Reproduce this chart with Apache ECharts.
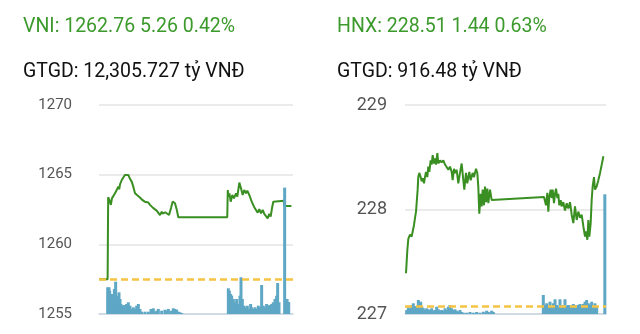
<!DOCTYPE html>
<html><head><meta charset="utf-8">
<script src="https://cdn.jsdelivr.net/npm/echarts@6/dist/echarts.min.js"></script>
<style>html,body{margin:0;padding:0;background:#fff}#c{width:640px;height:334px}</style>
</head><body><div id="c"></div>
<script>
// ---- data (time = minutes since 09:00) ----
const vniHeader = 'VNI: 1262.76 5.26 0.42%';
const vniValue = 'GTGD: 12,305.727 tỷ VNĐ';
const hnxHeader = 'HNX: 228.51 1.44 0.63%';
const hnxValue = 'GTGD: 916.48 tỷ VNĐ';
const vniRef = 1257.5;
const hnxRef = 227.07;
const vniTicks = [1255, 1260, 1265, 1270];
const hnxTicks = [227, 228, 229];

const vniTime = [0,16,17,20,22,24,26.5,29.7,32.8,35.8,37.5,39,42,45,48,51.4,54.4,57.5,60.7,63.6,66.8,70,74.8,77,79.2,82,85.4,88,91.5,94.6,97,100.8,103,107.1,110,113.2,116.4,118,120.6,123,125.6,129.9,133.6,136.8,139,141,144.2,147.1,150,238,239,240,242,244.4,247.4,250.5,254.2,256.7,260.4,263.5,266.6,269.6,272.8,275.2,278.9,283.4,287.6,291.3,294.5,297.4,300.6,303.8,306.7,309.9,313,316,318.6,321,323.4,326.6,343,343.5,357];
const vniPrice = [1257.5,1257.5,1263.38,1263.1,1262.83,1263.3,1263.2,1263.66,1263.9,1264.14,1263.95,1264.3,1264.6,1264.65,1264.98,1264.85,1264.98,1264.7,1264.5,1264.14,1263.66,1263.55,1263.4,1263.5,1263.23,1263.3,1263.05,1263.15,1263.0,1262.83,1262.9,1262.6,1262.7,1262.42,1262.3,1262.1,1262.35,1262.2,1262.2,1262.3,1262.25,1262.1,1262.6,1263.07,1263.0,1262.95,1262.5,1261.94,1261.94,1261.94,1263.9,1263.42,1263.66,1263.06,1263.54,1263.3,1263.66,1263.42,1264.43,1264.02,1263.54,1263.9,1263.66,1263.85,1263.54,1263.06,1262.7,1262.47,1262.27,1262.52,1262.23,1262.47,1262.18,1262.03,1261.87,1262.18,1261.99,1262.59,1263.06,1263.13,1263.13,1262.76,1262.76];

const vniVolTime = [16.1,18.6,19.8,22.3,24.7,26.6,28.5,30.9,32.8,34.6,37.1,39,40.8,43.3,47,51.3,54.4,57.5,60.6,63.7,66.8,69.9,73,76.1,79.2,85.4,91.5,96.5,100.8,103.9,107,110.1,116.3,122.5,125.6,128.6,133.6,137.9,141,144.1,147.2,150.3,153.4,
  240,241.9,244.3,246.2,249.3,252.4,255.5,258.5,261.6,263.5,266,269,272.1,275.2,278.3,281.4,283.3,286.3,289.5,292.6,295.6,298.8,301.8,304.9,308,311.1,314.2,317.3,320.4,323.4,326.6,329.6,331.5,334,
  344.5,349,352];
const vniVol = [26.7,26.7,23.3,18.3,20,15,25,32.3,18.3,13.3,21.7,15,10,8.3,9,10,11.7,8.3,5,6.7,5,8.3,10,5,2.3,2.3,2.3,5,5.7,2.3,3.3,5,3.3,4.3,3.3,5,3.3,5.7,5,4.3,2.3,1.7,1,
  25.7,23.3,20,18.3,15,11.7,15,10,18.3,36.7,15,8.3,6.7,8.3,5,10,6.7,5,6.7,5,8.3,6.7,29,8.3,6.7,10,8.3,9,10,11.7,15,18.3,31,11.7,
  126.4,15,12];

const hnxTime = [1.7,4,5.7,8.6,11.4,13.2,15.4,17.2,18.9,20,21.7,22.8,24.5,26.9,28.6,30.3,32.6,34.3,36,38.3,40,41.8,44,45.8,47.5,49.8,51.5,53.2,55.5,57.2,60.1,62.9,65.8,68.7,71.5,74.4,77.2,80.1,81.8,84.1,85.8,88.7,91.5,94.4,97.3,100.1,101.8,104.7,106.9,110.4,112.7,116.1,118.4,121.9,124.1,125.8,127.5,129.9,131.6,133.3,135.6,137.3,139,141.3,143,145.9,148.8,151.6,238.6,240.3,242,244.3,246,247.7,250,251.7,253.5,255.7,257.5,259.2,261.5,263.1,264.9,267.2,268.9,271.7,274.6,277.5,280.3,283.2,286.1,288.9,291.8,294.7,297.5,300.4,303.2,306.1,309,310.7,313,314.7,316.4,318.7,320.4,322.1,324.4,326.1,329,331.8,334.8,337.7,340.5];
const hnxPrice = [227.39,227.61,227.72,227.76,227.74,227.79,227.85,227.92,227.98,228.06,228.19,228.31,228.35,228.31,228.27,228.3,228.25,228.31,228.36,228.31,228.41,228.36,228.47,228.43,228.52,228.44,228.49,228.43,228.54,228.44,228.47,228.45,228.47,228.43,228.44,228.38,228.41,228.36,228.28,228.39,228.35,228.38,228.25,228.35,228.44,228.28,228.19,228.35,228.25,228.36,228.28,228.35,228.31,228.39,228.35,228.22,227.96,228.15,228.03,228.19,228.04,228.22,228.07,228.2,228.06,228.19,228.09,228.09,228.12,228.13,228.04,228.16,227.98,228.12,228.19,228.11,228.19,228.06,228.15,228.2,228.11,228.15,228.04,228.09,228.03,228.07,227.99,228.06,228.01,228.07,227.95,227.87,228.03,227.9,227.98,227.92,227.95,227.84,227.74,227.79,227.71,227.9,227.74,227.87,228.09,228.22,228.31,228.19,228.22,228.28,228.35,228.43,228.51];

const hnxVolTime = [2.9,5.7,8.6,11.4,14.3,17.2,20,22.9,24.6,26.9,29.2,31.5,34.3,37.2,40,42.9,45.8,48.6,51.5,54.4,57.2,60.1,62.9,65.8,68.7,71.5,74.4,77.2,80.1,83,85.8,88.7,91.5,94.4,97.3,100.1,105.8,111.6,117.3,123,128.7,134.4,137.3,140.2,143,145.9,148.8,151.6,237.4,240.3,243.2,246,248.9,251.7,254.6,257.5,260.3,263.2,266,268.9,271.8,274.6,277.5,280.3,283.2,286.1,288.9,291.8,294.7,297.5,300.4,303.2,306.1,309,311.8,314.7,317.6,320.4,323.3,326.1,329,343];
const hnxVol = [4,6.7,5.7,9,10.7,7.3,8,14,10,12.3,7.3,5.7,4,5.7,4.7,4,5.7,3.3,4,7.3,4.7,3.3,4,3.3,5.7,4,7.3,9,5.7,4,4.7,3.3,2.3,4,2,1.3,1.3,2,1.3,2,1.3,2.3,1.3,3.3,2,1.3,3.3,2,19,9,10.7,7.3,12.3,8,10.7,14.7,9,7.3,14.7,9,7.3,14.7,8,9,8,9,10,9,8,9,10,9,10,12.3,14,10.7,9,12.3,9,10.7,7.3,119.7];

// ---- chart ----
const green = '#3a8f22';
const blue = '#5ea7c5';
const refColor = '#f5c445';
const zip = (a, b) => a.map((v, i) => [v, b[i]]);

const chart = echarts.init(document.getElementById('c'), null, {renderer: 'canvas'});
const grids = [
  {left: 99, top: 105, width: 194, height: 209},
  {left: 405, top: 105, width: 201, height: 209}
];
function priceAxis(gi, ticks, fs, margin) {
  return {
    type: 'value', gridIndex: gi, min: ticks[0], max: ticks[ticks.length - 1],
    interval: ticks[1] - ticks[0],
    axisLine: {show: false}, axisTick: {show: false},
    axisLabel: {color: '#555', fontSize: fs, fontFamily: 'Roboto', margin: margin,
      padding: [8, 0, 0, 0], formatter: v => String(v)},
    splitLine: {lineStyle: {color: '#e4e4e4', width: 1.5}}
  };
}
function volAxis(gi) {
  return {type: 'value', gridIndex: gi, min: 0, max: 209, show: false, splitLine: {show: false}};
}
function xAx(gi, max) {
  return {type: 'value', gridIndex: gi, min: 0, max: max,
    axisLine: {show: true, onZero: false, lineStyle: {color: '#c9d6e4', width: 1.5}},
    axisTick: {show: false}, axisLabel: {show: false}, splitLine: {show: false}};
}
function lineSeries(xi, yi, data) {
  return {type: 'line', xAxisIndex: xi, yAxisIndex: yi, data: data, showSymbol: false,
    symbol: 'none', lineStyle: {color: green, width: 2}, z: 2, animation: false};
}
function barSeries(xi, yi, data) {
  return {type: 'bar', xAxisIndex: xi, yAxisIndex: yi, data: data, barWidth: 3,
    itemStyle: {color: blue}, z: 3, animation: false};
}
function refSeries(xi, yi, ref) {
  return {type: 'line', xAxisIndex: xi, yAxisIndex: yi, data: [], z: 4, animation: false,
    markLine: {silent: true, symbol: 'none', label: {show: false},
      lineStyle: {color: refColor, type: [7, 4], width: 2.5},
      data: [{yAxis: ref}]}};
}

chart.setOption({
  animation: false,
  backgroundColor: '#fff',
  grid: grids,
  xAxis: [xAx(0, 360), xAx(1, 345)],
  yAxis: [priceAxis(0, vniTicks, 15, 27), volAxis(0), priceAxis(1, hnxTicks, 18, 18), volAxis(1)],
  series: [
    lineSeries(0, 0, zip(vniTime, vniPrice)),
    barSeries(0, 1, zip(vniVolTime, vniVol)),
    refSeries(0, 0, vniRef),
    lineSeries(1, 2, zip(hnxTime, hnxPrice)),
    barSeries(1, 3, zip(hnxVolTime, hnxVol)),
    refSeries(1, 2, hnxRef)
  ],
  graphic: [
    {type: 'text', left: 23, top: 17, style: {text: vniHeader, fill: '#3c9a2c', font: '19.5px Roboto'}},
    {type: 'text', left: 23, top: 62, style: {text: vniValue, fill: '#111', font: '19.5px Roboto'}},
    {type: 'text', left: 337, top: 17, style: {text: hnxHeader, fill: '#3c9a2c', font: '19.5px Roboto'}},
    {type: 'text', left: 337, top: 62, style: {text: hnxValue, fill: '#111', font: '19.5px Roboto'}}
  ]
});
</script></body></html>
